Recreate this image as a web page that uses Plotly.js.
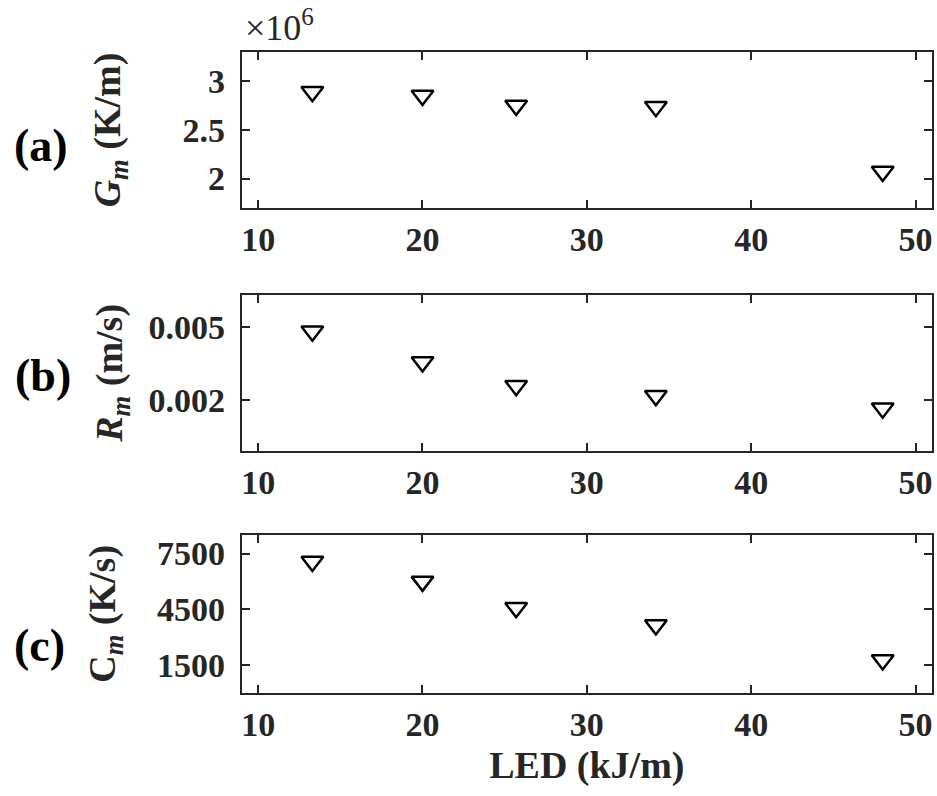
<!DOCTYPE html>
<html>
<head>
<meta charset="utf-8">
<script src="https://cdn.plot.ly/plotly-3.0.1.min.js"></script>
<style>html,body{margin:0;padding:0;background:#fff;}#chart{width:937px;height:796px;}</style>
</head>
<body>
<div id="chart"></div>
<script>
// ---- data ----
const led = [13.3, 20, 25.7, 34.2, 48];               // LED (kJ/m)
const gm  = [2.894e6, 2.855e6, 2.753e6, 2.740e6, 2.073e6]; // G_m (K/m)
const rm  = [0.00482, 0.00356, 0.00259, 0.00218, 0.00167]; // R_m (m/s)
const cm  = [7070, 6000, 4580, 3650, 1760];             // C_m (K/s)

const xTicks = [10, 20, 30, 40, 50];
const gmTicks = [2e6, 2.5e6, 3e6];
const gmTickText = ['2', '2.5', '3'];
const rmTicks = [0.002, 0.005];
const rmTickText = ['0.002', '0.005'];
const cmTicks = [1500, 4500, 7500];
const cmTickText = ['1500', '4500', '7500'];
const panelLabels = ['(a)', '(b)', '(c)'];

// ---- styling ----
const FONT = '"Liberation Serif", "Times New Roman", Times, serif';
const AX = '#262626';
const xDom = [241.7/937, 932/937];
const yDoms = [
  [1 - 207.7/796, 1 - 52.3/796],
  [1 - 450.7/796, 1 - 295/796],
  [1 - 692.7/796, 1 - 535/796]
];

function mk(y, xa, ya) {
  return {
    x: led, y: y, xaxis: xa, yaxis: ya, type: 'scatter', mode: 'markers',
    marker: {symbol: 'triangle-down-open', size: 19, color: '#000', line: {width: 2.5, color: '#000'}},
    showlegend: false, hoverinfo: 'skip'
  };
}

function xAxis(anchor, title) {
  const a = {
    domain: xDom, anchor: anchor, range: [9, 51],
    tickvals: xTicks, ticks: 'inside', ticklen: 8, tickwidth: 2, tickcolor: AX,
    showline: true, linewidth: 2, linecolor: AX, mirror: 'allticks',
    showgrid: false, zeroline: false, ticklabelstandoff: 0,
    tickfont: {family: FONT, size: 34, color: AX, weight: 'bold'}
  };
  if (title) {
    a.title = {text: title, font: {family: FONT, size: 38, color: AX, weight: 'bold'}, standoff: 10};
  }
  return a;
}

function yAxis(anchor, dom, range, tv, tt, title, standoff) {
  return {
    domain: dom, anchor: anchor, range: range,
    tickvals: tv, ticktext: tt, ticks: 'inside', ticklen: 8, tickwidth: 2, tickcolor: AX,
    showline: true, linewidth: 2, linecolor: AX, mirror: 'allticks',
    showgrid: false, zeroline: false, ticklabelstandoff: 8,
    tickfont: {family: FONT, size: 34, color: AX, weight: 'bold'},
    title: {text: title, font: {family: FONT, size: 38, color: AX, weight: 'bold'}, standoff: standoff}
  };
}

const data = [mk(gm, 'x', 'y'), mk(rm, 'x2', 'y2'), mk(cm, 'x3', 'y3')];

const layout = {
  width: 937, height: 796,
  margin: {l: 0, r: 0, t: 0, b: 0},
  paper_bgcolor: '#fff', plot_bgcolor: '#fff',
  font: {family: FONT},
  xaxis: xAxis('y'),
  xaxis2: xAxis('y2'),
  xaxis3: xAxis('y3', 'LED (kJ/m)'),
  yaxis: yAxis('x', yDoms[0], [1.7e6, 3.3e6], gmTicks, gmTickText, '<i>G</i><sub><i>m</i></sub> (K/m)', 50),
  yaxis2: yAxis('x2', yDoms[1], [-0.00007, 0.0063], rmTicks, rmTickText, '<i>R</i><sub><i>m</i></sub> (m/s)', 14),
  yaxis3: yAxis('x3', yDoms[2], [0, 8500], cmTicks, cmTickText, 'C<sub><i>m</i></sub> (K/s)', 30),
  annotations: [
    {text: panelLabels[0], xref: 'paper', yref: 'paper', x: 40.5/937, y: 1 - 145/796, xanchor: 'center', yanchor: 'middle', showarrow: false, font: {family: FONT, size: 46, color: '#000', weight: 'bold'}},
    {text: panelLabels[1], xref: 'paper', yref: 'paper', x: 42.5/937, y: 1 - 375/796, xanchor: 'center', yanchor: 'middle', showarrow: false, font: {family: FONT, size: 46, color: '#000', weight: 'bold'}},
    {text: panelLabels[2], xref: 'paper', yref: 'paper', x: 39/937, y: 1 - 645/796, xanchor: 'center', yanchor: 'middle', showarrow: false, font: {family: FONT, size: 46, color: '#000', weight: 'bold'}},
    {text: '×10<sup>6</sup>', xref: 'paper', yref: 'paper', x: 243/937, y: 1 - 50/796, xanchor: 'left', yanchor: 'bottom', showarrow: false, font: {family: FONT, size: 36, color: AX}}
  ]
};

Plotly.newPlot('chart', data, layout, {displayModeBar: false, staticPlot: true});
</script>
</body>
</html>
